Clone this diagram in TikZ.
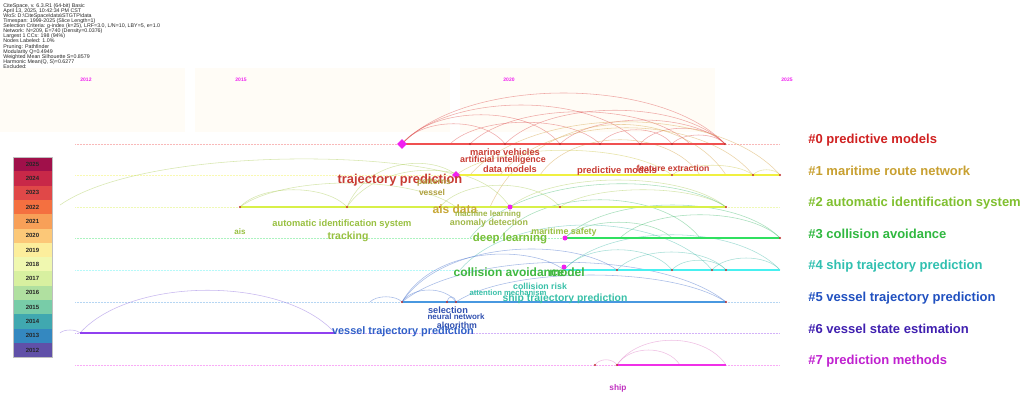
\documentclass[tikz,border=0pt]{standalone}
\usepackage{fontspec}
\setmainfont{Liberation Sans}
\usepackage{tikz}
\usetikzlibrary{shapes}

\newcommand{\kwfont}[1]{\fontsize{#1}{#1}\selectfont\bfseries}

% Line and arc colours
\definecolor{line0}{HTML}{F05050}
\definecolor{line1}{HTML}{F0F040}
\definecolor{line2}{HTML}{D8F048}
\definecolor{line3}{HTML}{30E060}
\definecolor{line4}{HTML}{48F0F0}
\definecolor{line5}{HTML}{4898E0}
\definecolor{line6}{HTML}{9040F0}
\definecolor{line7}{HTML}{F030E8}
\definecolor{arcred}{HTML}{E05858}
\definecolor{arcorange}{HTML}{D8A850}
\definecolor{arcyellow}{HTML}{D0C850}
\definecolor{arclime}{HTML}{B0D060}
\definecolor{arcgreen}{HTML}{50C078}
\definecolor{arcteal}{HTML}{50C0B0}
\definecolor{arcblue}{HTML}{5078D0}
\definecolor{arcpurple}{HTML}{9070E0}
\definecolor{arcpink}{HTML}{E080C8}
% Cluster label colours
\definecolor{lab0}{HTML}{D02020}
\definecolor{lab1}{HTML}{C8A030}
\definecolor{lab2}{HTML}{80C030}
\definecolor{lab3}{HTML}{30B840}
\definecolor{lab4}{HTML}{30C0B0}
\definecolor{lab5}{HTML}{2050C0}
\definecolor{lab6}{HTML}{4020B0}
\definecolor{lab7}{HTML}{C020D0}
% Keyword colours
\definecolor{kwred}{HTML}{C83C34}
\definecolor{kwolive}{HTML}{B0A040}
\definecolor{kwgold}{HTML}{C8A838}
\definecolor{kwlime}{HTML}{A0B848}
\definecolor{kwygreen}{HTML}{98C040}
\definecolor{kwdgreen}{HTML}{78C038}
\definecolor{kwgreen}{HTML}{40B840}
\definecolor{kwteal}{HTML}{38C0A8}
\definecolor{kwblue}{HTML}{3050B0}
\definecolor{kwblue2}{HTML}{3060C8}
\definecolor{kwmag}{HTML}{C030C0}
\definecolor{burst}{HTML}{F020F0}
\definecolor{nodered}{HTML}{C03030}
\definecolor{cream}{HTML}{FFF8E4}
% Year legend colours
\definecolor{yr2025}{HTML}{A0104A}
\definecolor{yr2024}{HTML}{C82848}
\definecolor{yr2023}{HTML}{E04848}
\definecolor{yr2022}{HTML}{F47040}
\definecolor{yr2021}{HTML}{F8A058}
\definecolor{yr2020}{HTML}{FCC878}
\definecolor{yr2019}{HTML}{FCEE9C}
\definecolor{yr2018}{HTML}{F0F8B0}
\definecolor{yr2017}{HTML}{D8F0A0}
\definecolor{yr2016}{HTML}{B0E0A0}
\definecolor{yr2015}{HTML}{78CCA8}
\definecolor{yr2014}{HTML}{40A8B0}
\definecolor{yr2013}{HTML}{3488C0}
\definecolor{yr2012}{HTML}{6050A8}

\begin{document}
\begin{tikzpicture}[x=1pt, y=-1pt, thick]
    \tikzset{clabel/.style={anchor=west, inner sep=0pt,
      font=\kwfont{13}}}
    \tikzset{kw/.style={inner sep=0pt}}
    \tikzset{arc/.style={line width=0.55pt, opacity=0.5}}
    \tikzset{hub/.style={fill=burst, diamond, inner sep=0pt,
      minimum size=10pt}}
    \tikzset{dot/.style={circle, fill=nodered, inner sep=0pt,
      minimum size=2.4pt}}
    \tikzset{cell/.style={rectangle, inner sep=0pt,
      minimum width=39pt, minimum height=14.3pt, font=\kwfont{6}}}

    \useasboundingbox (0,0) rectangle (1024,394);
    \fill[white] (0,0) rectangle (1024,394);

    % Faint panels
    \fill[cream, opacity=0.3] (0,68) rectangle (185,132);
    \fill[cream, opacity=0.3] (195,68) rectangle (450,132);
    \fill[cream, opacity=0.3] (460,68) rectangle (715,132);

    % Header
    \node[anchor=north west, inner sep=0pt, align=left,
          font=\fontsize{5.3}{5.1}\selectfont, text=black!85] (info) at (3,3)
      {CiteSpace, v. 6.3.R1 (64-bit) Basic\\
       April 13, 2025, 10:42:34 PM CST\\
       WoS: D:\textbackslash CiteSpace\textbackslash data\textbackslash STGTP\textbackslash data\\
       Timespan: 1999-2025 (Slice Length=1)\\
       Selection Criteria: g-index (k=25), LRF=3.0, L/N=10, LBY=5, e=1.0\\
       Network: N=209, E=740 (Density=0.0376)\\
       Largest 1 CCs: 198 (94\%)\\
       Nodes Labeled: 1.0\%\\
       Pruning: Pathfinder\\
       Modularity Q=0.4949\\
       Weighted Mean Silhouette S=0.8579\\
       Harmonic Mean(Q, S)=0.6277\\
       Excluded:};

    % Years
    \foreach \x/\l in {86/2012, 241/2015, 509/2020, 787/2025} {
      \node[kw, text=burst, font=\kwfont{5}] (y\l) at (\x,80) {\l};
    }

    % Baselines
    \foreach \r/\c in {144/line0, 175/line1, 207/line2, 238/line3,
                       270/line4, 302/line5, 333/line6, 365/line7} {
      \draw[\c!40, densely dotted, line width=0.5pt] (75,\r) -- (780,\r);
    }

    % Arcs
    \foreach \a/\ya/\b/\yb/\t/\c in {%
        402/144/725/144/76/arcred, 402/144/640/144/92/arcred,
        402/144/560/144/105/arcred, 402/144/505/144/117/arcred,
        470/144/690/144/101/arcred, 505/144/725/144/99/arcred,
        560/144/725/144/112/arcred, 600/144/672/144/125/arcred,
        640/144/725/144/123/arcred, 672/144/725/144/132/arcred,
        450/144/600/144/115/arcred,
        470/175/780/175/104/arcorange, 500/175/753/175/112/arcorange,
        490/207/726/175/103/arcorange, 540/175/700/175/128/arcorange,
        456/175/672/175/142/arcyellow, 672/175/753/175/162/arcyellow,
        753/175/780/175/168/arcyellow,
        240/207/347/207/184/arclime, 240/207/456/207/175/arclime,
        347/207/456/175/156/arclime, 347/207/510/207/158/arclime,
        440/207/560/207/178/arclime, 510/207/726/207/171/arclime,
        560/207/726/207/184/arclime, 60/205/456/175/150/arclime,
        565/238/780/238/194/arcgreen, 470/238/726/207/172/arcgreen,
        565/238/672/238/217/arcgreen, 620/238/780/238/207/arcgreen,
        500/238/700/238/187/arcgreen,
        564/270/780/270/223/arcteal, 564/270/672/270/243/arcteal,
        617/270/726/270/246/arcteal, 672/270/726/270/257/arcteal,
        712/270/780/270/254/arcteal, 460/270/712/270/210/arcteal,
        402/302/617/270/238/arcblue, 402/302/564/270/245/arcblue,
        402/302/456/302/286/arcblue, 447/302/456/302/295/arcblue,
        370/302/402/302/295/arcblue, 402/302/726/302/249/arcblue,
        456/302/726/302/266/arcblue,
        80/333/335/333/276/arcpurple, 60/333/80/333/329/arcpurple,
        595/365/617/365/358/arcpink, 617/365/680/365/345/arcpink,
        617/365/726/365/332/arcpink} {
      \draw[arc, \c] (\a,\ya)
        .. controls ({\a+0.2*(\b-\a)},\t) and ({\b-0.2*(\b-\a)},\t) .. (\b,\yb);
    }

    % Cluster lines
    \foreach \s/\e/\r/\c in {402/725/144/line0, 456/780/175/line1,
                             240/726/207/line2, 565/780/238/line3,
                             564/780/270/line4, 402/726/302/line5,
                             80/335/333/line6, 617/726/365/line7} {
      \draw[\c, line width=2pt] (\s,\r) -- (\e,\r);
    }

    % Nodes on the lines
    \foreach \x/\r [count=\n] in {470/144, 505/144, 560/144, 600/144,
        640/144, 672/144, 725/144, 672/175, 753/175, 780/175,
        240/207, 347/207, 440/207, 560/207, 726/207, 780/238,
        617/270, 672/270, 712/270, 726/270, 402/302, 447/302,
        456/302, 726/302, 595/365, 617/365} {
      \node[dot] (n\n) at (\x,\r) {};
    }
    \node[hub] (h0) at (402,144) {};
    \node[hub, minimum size=8pt] (h1) at (456,175) {};
    \foreach \x/\r [count=\n] in {510/207, 565/238, 564/267} {
      \node[circle, fill=burst, inner sep=0pt, minimum size=5pt] (b\n)
        at (\x,\r) {};
    }

    % Keywords
    \foreach \x/\y/\s/\c/\l [count=\n] in {%
        505/152/9.3/kwred/marine vehicles,
        503/160/8.9/kwred/artificial intelligence,
        510/169/9.2/kwred/data models,
        617/171/9.4/kwred/predictive models,
        673/168/8.7/kwred/feature extraction,
        400/180/12.9/kwred/trajectory prediction,
        434/183/8.5/kwolive/patterns,
        432/192/8.5/kwolive/vessel,
        455/209/12/kwgold/ais data,
        488/214/8/kwlime/machine learning,
        489/223/8.9/kwlime/anomaly detection,
        240/232/8/kwygreen/ais,
        342/224/9.3/kwygreen/automatic identification system,
        348/237/10.5/kwygreen/tracking,
        510/239/11.4/kwdgreen/deep learning,
        564/232/8.9/kwygreen/maritime safety,
        509/272/12/kwgreen/collision avoidance,
        567/272/12/kwgreen/model,
        540/286/8.8/kwteal/collision risk,
        508/293/7.7/kwteal/attention mechanism,
        565/299/10.4/kwteal/ship trajectory prediction,
        448/310/9.2/kwblue/selection,
        456/317/8/kwblue/neural network,
        457/326/8.8/kwblue/algorithm,
        403/332/10.9/kwblue2/vessel trajectory prediction,
        618/388/8.3/kwmag/ship} {
      \node[kw, text=\c, font=\kwfont{\s}] (k\n) at (\x,\y) {\l};
    }

    % Cluster labels
    \foreach \r/\c/\l [count=\n] in {140/lab0/\#0 predictive models,
        171/lab1/\#1 maritime route network,
        203/lab2/\#2 automatic identification system,
        234/lab3/\#3 collision avoidance,
        266/lab4/\#4 ship trajectory prediction,
        298/lab5/\#5 vessel trajectory prediction,
        329/lab6/\#6 vessel state estimation,
        361/lab7/\#7 prediction methods} {
      \node[clabel, text=\c] (c\n) at (808,\r) {\l};
    }

    % Year legend
    \foreach \yr [count=\n] in {2025,2024,...,2012} {
      \node[cell, fill=yr\yr, text=black!85] (leg\yr)
        at (32.5, {157+(\n-0.5)*14.3}) {\yr};
    }
    \draw[black!25, line width=0.4pt] (13,157) rectangle (52,357.2);
\end{tikzpicture}
\end{document}
